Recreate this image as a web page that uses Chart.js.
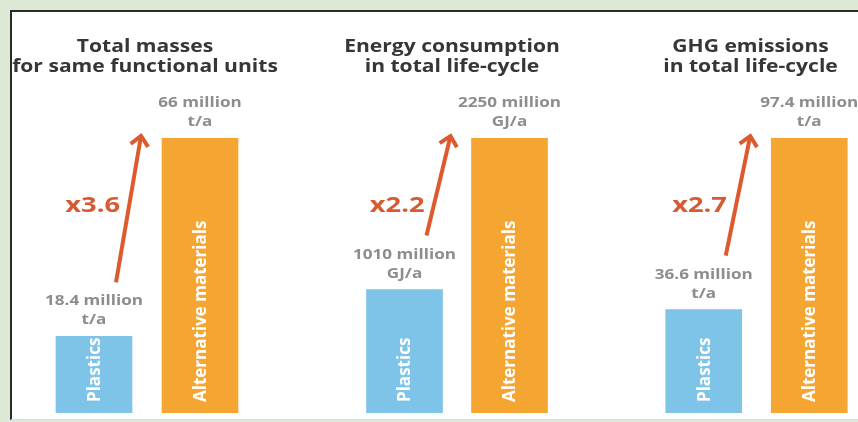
<!DOCTYPE html>
<html>
<head>
<meta charset="utf-8">
<script src="https://cdn.jsdelivr.net/npm/chart.js@4/dist/chart.umd.min.js"></script>
<style>
  html, body { margin: 0; padding: 0; }
  body {
    width: 858px; height: 422px; overflow: hidden; position: relative;
    background: #dde9d5;
  }
  .frame {
    position: absolute; left: 10px; top: 10px; right: 0; bottom: 2px;
    background: #fff;
    border-top: 2px solid #2b2b2b;
    border-left: 2px solid #2b2b2b;
    border-bottom: 1px solid #dcdcdc;
  }
  canvas { position: absolute; top: 0; }
</style>
</head>
<body>
<div class="frame"></div>
<canvas id="panel0" width="300" height="422" style="left:0px"></canvas>
<canvas id="panel1" width="300" height="422" style="left:300px"></canvas>
<canvas id="panel2" width="300" height="422" style="left:600px"></canvas>

<script>
const panelTitles = [
  ['Total masses', 'for same functional units'],
  ['Energy consumption', 'in total life-cycle'],
  ['GHG emissions', 'in total life-cycle']
];
const categories = ['Plastics', 'Alternative materials'];
const plasticsValues = [18.4, 1010, 36.6];
const alternativeValues = [66, 2250, 97.4];
const units = ['t/a', 'GJ/a', 't/a'];

const FONT = "'Open Sans', 'DejaVu Sans', sans-serif";
const BLUE = '#7ec4e8';
const ORANGE = '#f5a632';
const ARROW = '#dd5a2f';

// left/right padding per panel so the bars sit where they should
const sidePadding = [[41, 47], [52, 38], [51, 38]];
const titleShift = [-2, -5, -6];

// the lettering is set wide, so stretch text horizontally
function wideText(ctx, text, x, y, sx) {
  ctx.save();
  ctx.translate(x, y);
  ctx.scale(sx, 1);
  ctx.fillText(text, 0, 0);
  ctx.restore();
}

function drawArrow(ctx, x0, y0, x1, y1) {
  const ang = Math.atan2(y1 - y0, x1 - x0);
  const head = 13;
  ctx.save();
  ctx.strokeStyle = ARROW;
  ctx.lineWidth = 4;
  ctx.beginPath();
  ctx.moveTo(x0, y0);
  ctx.lineTo(x1 - Math.cos(ang) * 2, y1 - Math.sin(ang) * 2);
  ctx.stroke();
  ctx.lineJoin = 'miter';
  ctx.beginPath();
  ctx.moveTo(x1 - head * Math.cos(ang - 0.75), y1 - head * Math.sin(ang - 0.75));
  ctx.lineTo(x1, y1);
  ctx.lineTo(x1 - head * Math.cos(ang + 0.75), y1 - head * Math.sin(ang + 0.75));
  ctx.stroke();
  ctx.restore();
}

// title, value labels, names inside bars, and the growth arrow
const annotations = {
  id: 'annotations',
  afterDatasetsDraw(chart, args, opts) {
    const ctx = chart.ctx;
    const area = chart.chartArea;
    const bars = chart.getDatasetMeta(0).data;
    const values = chart.data.datasets[0].data;
    const p = bars[0], a = bars[1];

    ctx.save();
    ctx.textAlign = 'center';
    ctx.textBaseline = 'middle';

    // two-line heading
    ctx.fillStyle = '#363636';
    ctx.font = `bold 17px ${FONT}`;
    const cx = (area.left + area.right) / 2 + opts.shift;
    opts.title.forEach((line, k) => wideText(ctx, line, cx, 47 + k * 20, 1.24));

    // value labels above bars
    ctx.fillStyle = '#8d8d8d';
    ctx.font = `bold 14px ${FONT}`;
    bars.forEach((bar, i) => {
      wideText(ctx, `${values[i]} million`, bar.x, bar.y - 35, 1.22);
      wideText(ctx, opts.unit, bar.x, bar.y - 16, 1.22);
    });

    // rotated category names
    ctx.fillStyle = '#ffffff';
    ctx.font = `bold 17px ${FONT}`;
    ctx.textAlign = 'left';
    bars.forEach((bar, i) => {
      ctx.save();
      ctx.translate(bar.x, bar.base - 11);
      ctx.rotate(-Math.PI / 2);
      ctx.fillText(chart.data.labels[i], 0, 1);
      ctx.restore();
    });

    // arrow from plastics label up to alternative bar top
    const x0 = p.x + 22, y0 = p.y - 54;
    const x1 = a.x - a.width / 2 - 21, y1 = a.y - 2;
    drawArrow(ctx, x0, y0, x1, y1);

    // multiplier next to the arrow
    const ratio = (values[1] / values[0]).toFixed(1);
    const ty = a.y + 68;
    const tx = x0 + (x1 - x0) * (y0 - ty) / (y0 - y1);
    ctx.fillStyle = '#d65a32';
    ctx.font = `bold 21px ${FONT}`;
    ctx.textAlign = 'right';
    wideText(ctx, 'x' + ratio, tx - 9, ty, 1.3);
    ctx.restore();
  }
};

panelTitles.forEach((title, i) => {
  const ctx = document.getElementById('panel' + i).getContext('2d');
  new Chart(ctx, {
    type: 'bar',
    data: {
      labels: categories,
      datasets: [{
        data: [plasticsValues[i], alternativeValues[i]],
        backgroundColor: [BLUE, ORANGE],
        borderWidth: 0,
        barThickness: 76
      }]
    },
    options: {
      responsive: false,
      animation: false,
      layout: {
        padding: { left: sidePadding[i][0], right: sidePadding[i][1], top: 138, bottom: 9 }
      },
      scales: {
        x: { display: false },
        y: { display: false, min: 0, max: alternativeValues[i] }
      },
      plugins: {
        legend: { display: false },
        tooltip: { enabled: false },
        annotations: { title: title, unit: units[i], shift: titleShift[i] }
      }
    },
    plugins: [annotations]
  });
});
</script>
</body>
</html>
